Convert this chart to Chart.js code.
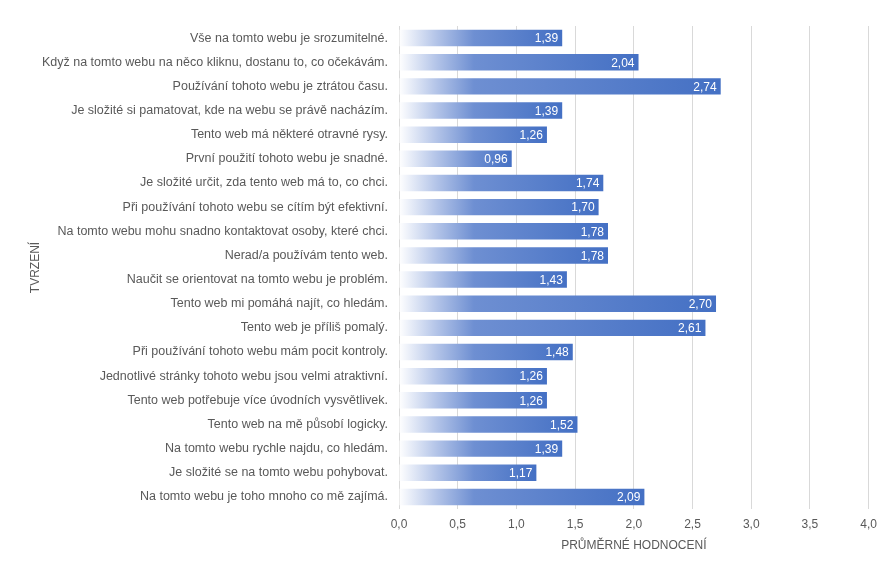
<!DOCTYPE html>
<html>
<head>
<meta charset="utf-8">
<script src="https://cdn.jsdelivr.net/npm/chart.js@4.4.1/dist/chart.umd.min.js"></script>
<style>
  html, body { margin: 0; padding: 0; background: #fff; }
  #wrap { width: 885px; height: 565px; position: relative; }
</style>
</head>
<body>
<div id="wrap"><canvas id="graf" width="885" height="565"></canvas></div>
<script>
// tvrzení (shora dolů)
const tvrzeni = [
  "Vše na tomto webu je srozumitelné.",
  "Když na tomto webu na něco kliknu, dostanu to, co očekávám.",
  "Používání tohoto webu je ztrátou času.",
  "Je složité si pamatovat, kde na webu se právě nacházím.",
  "Tento web má některé otravné rysy.",
  "První použití tohoto webu je snadné.",
  "Je složité určit, zda tento web má to, co chci.",
  "Při používání tohoto webu se cítím být efektivní.",
  "Na tomto webu mohu snadno kontaktovat osoby, které chci.",
  "Nerad/a používám tento web.",
  "Naučit se orientovat na tomto webu je problém.",
  "Tento web mi pomáhá najít, co hledám.",
  "Tento web je příliš pomalý.",
  "Při používání tohoto webu mám pocit kontroly.",
  "Jednotlivé stránky tohoto webu jsou velmi atraktivní.",
  "Tento web potřebuje více úvodních vysvětlivek.",
  "Tento web na mě působí logicky.",
  "Na tomto webu rychle najdu, co hledám.",
  "Je složité se na tomto webu pohybovat.",
  "Na tomto webu je toho mnoho co mě zajímá."
];

const prumer = [1.39, 2.04, 2.74, 1.39, 1.26, 0.96, 1.74, 1.70, 1.78, 1.78,
                1.43, 2.70, 2.61, 1.48, 1.26, 1.26, 1.52, 1.39, 1.17, 2.09];

const osaX = [0, 0.5, 1, 1.5, 2, 2.5, 3, 3.5, 4];

const FONT = "'Liberation Sans', Arial, sans-serif";
const SEDA = "#595959";

function carka(v, d) {
  return v.toFixed(d).replace(".", ",");
}

// gradient pro každý pruh zvlášť (bílá -> modrá)
function prechod(context) {
  const chart = context.chart;
  if (!chart.chartArea) return "#4472C4";
  const x = chart.scales.x;
  const x0 = x.getPixelForValue(0);
  const x1 = x.getPixelForValue(prumer[context.dataIndex]);
  const f = Math.min(75 / (x1 - x0), 0.85);
  const g = chart.ctx.createLinearGradient(x0, 0, x1, 0);
  g.addColorStop(0, "#FFFFFF");
  g.addColorStop(f * 0.5, "#B3C4E8");
  g.addColorStop(f, "#6E8FD2");
  g.addColorStop(1, "#4470C4");
  return g;
}

// hodnoty uvnitř pruhu
const popisky = {
  id: "popisky",
  afterDatasetsDraw(chart) {
    const ctx = chart.ctx;
    const meta = chart.getDatasetMeta(0);
    ctx.save();
    ctx.font = "12px " + FONT;
    ctx.fillStyle = "#ffffff";
    ctx.textAlign = "right";
    ctx.textBaseline = "middle";
    meta.data.forEach((bar, i) => {
      ctx.fillText(carka(prumer[i], 2), bar.x - 4, bar.y + 1);
    });
    ctx.restore();
  }
};

new Chart(document.getElementById("graf").getContext("2d"), {
  type: "bar",
  data: {
    labels: tvrzeni,
    datasets: [{
      data: prumer,
      backgroundColor: prechod,
      borderWidth: 0,
      barPercentage: 0.68,
      categoryPercentage: 1
    }]
  },
  options: {
    indexAxis: "y",
    responsive: false,
    animation: false,
    events: [],
    layout: { padding: { left: 24, right: 14, top: 26, bottom: 8 } },
    plugins: {
      legend: { display: false },
      tooltip: { enabled: false }
    },
    scales: {
      x: {
        min: 0,
        max: 4,
        afterBuildTicks(scale) {
          scale.ticks = osaX.map(v => ({ value: v }));
        },
        afterFit(scale) { scale.height = 48; },
        ticks: {
          color: SEDA,
          font: { family: FONT, size: 12 },
          padding: 8,
          callback: v => carka(v, 1)
        },
        grid: { color: "#D9D9D9", lineWidth: 1, drawTicks: false },
        border: { display: false },
        title: {
          display: true,
          text: "PRŮMĚRNÉ HODNOCENÍ",
          color: SEDA,
          font: { family: FONT, size: 12 },
          padding: { top: 4, bottom: 4 }
        }
      },
      y: {
        afterFit(scale) { scale.width = 375; },
        ticks: {
          color: SEDA,
          font: { family: FONT, size: 12.5 },
          padding: 11,
          autoSkip: false
        },
        grid: { display: false, drawTicks: false },
        border: { display: false },
        title: {
          display: true,
          text: "TVRZENÍ",
          color: SEDA,
          font: { family: FONT, size: 12 },
          padding: { top: 4, bottom: 4 }
        }
      }
    }
  },
  plugins: [popisky]
});
</script>
</body>
</html>
